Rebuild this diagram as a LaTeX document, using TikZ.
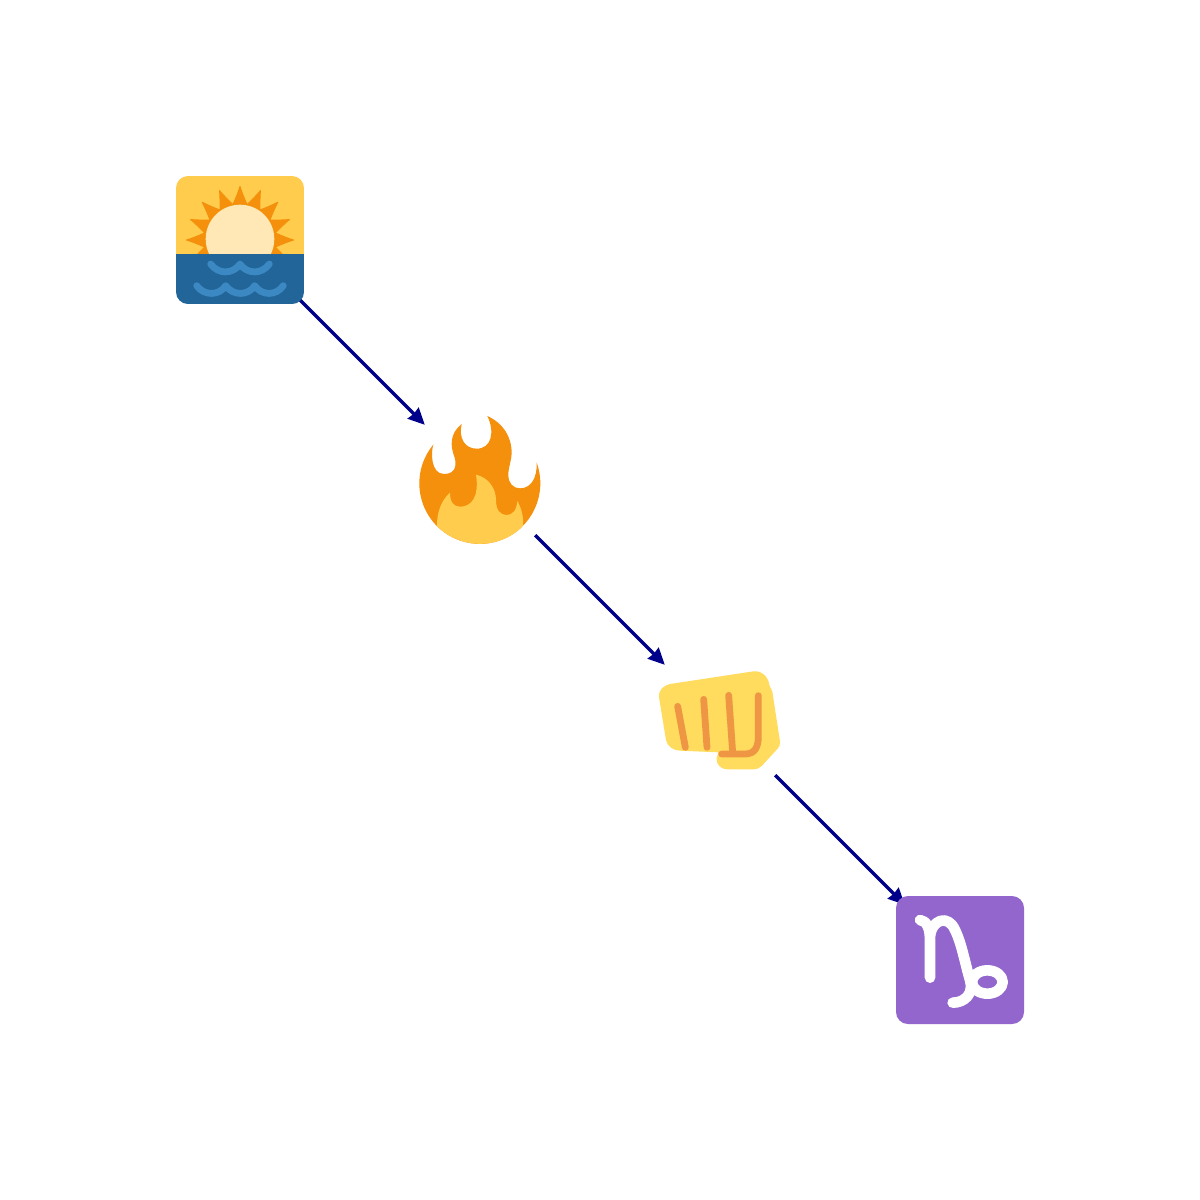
\documentclass[tikz,border=0pt]{standalone}
\usetikzlibrary{arrows.meta}
\definecolor{edgeblue}{HTML}{00008B}
\definecolor{twyellow}{HTML}{FFCC4D}
\definecolor{tworange}{HTML}{F4900C}
\definecolor{twsun}{HTML}{FFE8B6}
\definecolor{twsea}{HTML}{226699}
\definecolor{twwave}{HTML}{3B88C3}
\definecolor{twskin}{HTML}{FFDC5D}
\definecolor{twline}{HTML}{EF9645}
\definecolor{twpurple}{HTML}{9266CC}
\tikzset{
  slot/.style={circle,minimum size=78pt,inner sep=0pt,outer sep=0pt},
  edge/.style={draw=edgeblue,line width=1.7pt,-{Stealth[length=8.2pt,width=7.6pt,inset=0.4pt]}},
  zoomed/.style={x=0.16667pt,y=-0.16667pt},
  wave/.style={draw=twwave,line width=3.4pt,line cap=round,line join=round},
  finger/.style={draw=twline,line width=3.4pt,line cap=round,line join=round},
  glyph/.style={draw=white,line width=5.3pt,line cap=round,line join=round},
}
\begin{document}
\begin{tikzpicture}[x=0.5pt,y=-0.5pt]
\useasboundingbox[fill=white] (0,0) rectangle (1200,1200);
\node[slot] (sun) at (240,240) {};
\node[slot] (fire) at (480,480) {};
\node[slot] (fist) at (720,720) {};
\node[slot] (goat) at (960,960) {};
\draw[edge] (sun) -- (fire);
\draw[edge] (fire) -- (fist);
\draw[edge] (fist) -- (goat);
% sunrise over water
\begin{scope}
\clip[rounded corners=6pt] (176,176) rectangle (304,304);
\fill[twyellow] (176,176) rectangle (304,254);
\begin{scope}[shift={(240,240)}]
\fill[tworange] (0,0) circle (37);
\foreach \a in {0,22.5,...,337.5}{
  \filldraw[tworange,line width=0.5pt,line join=round]
    ({\a-11.25}:36) .. controls ({\a-5}:43) and ({\a-2}:48) .. (\a:53.5)
    .. controls ({\a+2}:48) and ({\a+5}:43) .. ({\a+11.25}:36) -- cycle;
}
\fill[twsun] (0,-1) circle (34.3);
\end{scope}
\fill[twsea] (176,254) rectangle (304,304);
\draw[wave] (210.7,264) .. controls (218,274.5) and (233,274.5) .. (240,264)
  .. controls (247,274.5) and (262,274.5) .. (269.3,264);
\draw[wave] (196.7,285.7) .. controls (204,296) and (219,296) .. (225.7,285.7)
  .. controls (233,296) and (248,296) .. (254.7,285.7)
  .. controls (262,296) and (276,296) .. (283.3,285.7);
\end{scope}
% fire
\begin{scope}[shift={(400,400)},zoomed]
\fill[tworange] (410,188) arc[start angle=-20,end angle=220,radius=181.5]
  .. controls (92,155) and (92,222) .. (132,222)
  .. controls (170,222) and (170,190) .. (163,170)
  .. controls (150,135) and (150,100) .. (185,72)
  .. controls (175,115) and (195,146) .. (230,146)
  .. controls (275,146) and (285,95) .. (262,48)
  .. controls (310,70) and (335,110) .. (335,160)
  .. controls (335,180) and (325,200) .. (325,225)
  .. controls (325,250) and (340,265) .. (360,265)
  .. controls (395,265) and (412,230) .. (410,188) -- cycle;
\fill[twyellow] (111.2,378.3) arc[start angle=135,end angle=45,radius=182]
  .. controls (372,355) and (365,325) .. (352,303)
  .. controls (350,330) and (338,345) .. (320,345)
  .. controls (300,345) and (288,330) .. (288,300)
  .. controls (288,265) and (265,232) .. (228,224)
  .. controls (238,290) and (215,320) .. (180,320)
  .. controls (160,320) and (150,305) .. (150,278)
  .. controls (125,300) and (110,335) .. (111.2,378.3) -- cycle;
\end{scope}
% fist
\begin{scope}[shift={(640,640)},zoomed]
\fill[twskin] (57,172) .. controls (55,150) and (70,137) .. (90,132) -- (340,94)
  .. controls (365,91) and (385,110) .. (388,135) -- (397,155) -- (420,305)
  .. controls (421,315) and (418,320) .. (412,327) -- (365,378)
  .. controls (358,385) and (350,388) .. (340,388) -- (262,388)
  .. controls (245,388) and (228,375) .. (230,355) -- (235,337) -- (120,332)
  .. controls (100,331) and (82,320) .. (78,300) -- cycle;
\draw[finger] (113,199) -- (136,322);
\draw[finger] (191,178) -- (201,322);
\draw[finger] (266,166) -- (278,338);
\draw[finger] (355,167) -- (355,290) .. controls (355,320) and (345,342) .. (315,342) -- (245,342);
\end{scope}
% capricorn
\fill[twpurple,rounded corners=6pt] (896,896) rectangle (1024,1024);
\begin{scope}[shift={(880,880)},zoomed]
\draw[glyph] (120,120) .. controls (140,122) and (150,145) .. (150,180) -- (150,293);
\draw[glyph] (150,170) .. controls (155,118) and (205,102) .. (225,150)
  .. controls (245,190) and (255,250) .. (270,300)
  .. controls (282,340) and (255,368) .. (218,368);
\draw[glyph] (322,306) ellipse [x radius=46,y radius=35];
\end{scope}
\end{tikzpicture}
\end{document}
